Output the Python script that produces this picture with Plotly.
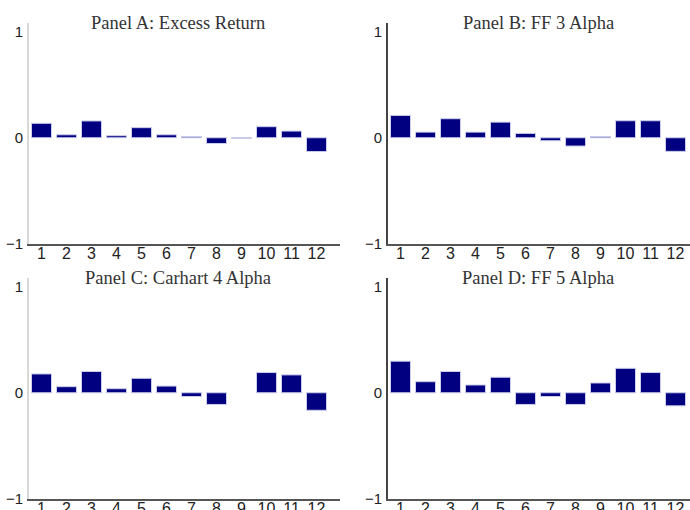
import plotly.graph_objects as go

portfolios = list(range(1, 13))
tick_labels = [str(i) for i in portfolios]

excess_return = [0.136, 0.028, 0.158, 0.019, 0.095, 0.028, 0.012, -0.054, -0.005, 0.104, 0.063, -0.130]
ff3_alpha = [0.210, 0.053, 0.179, 0.053, 0.147, 0.041, -0.028, -0.078, 0.012, 0.160, 0.160, -0.128]
carhart4_alpha = [0.177, 0.057, 0.200, 0.038, 0.136, 0.063, -0.035, -0.110, None, 0.190, 0.168, -0.165]
ff5_alpha = [0.297, 0.104, 0.200, 0.073, 0.146, -0.110, -0.035, -0.110, 0.092, 0.230, 0.190, -0.123]

titles = ["Panel A: Excess Return", "Panel B: FF 3 Alpha", "Panel C: Carhart 4 Alpha", "Panel D: FF 5 Alpha"]
series = [excess_return, ff3_alpha, carhart4_alpha, ff5_alpha]

W, H = 690, 510

def px_x(v):
    return v / W

def px_y(v):
    return 1 - v / H

left_dom = [px_x(29), px_x(340)]
right_dom = [px_x(388), 1.0]
top_dom = [px_y(244), px_y(23)]
bot_dom = [px_y(499), px_y(278)]

slot = 25.0
left_range = [0.5, 0.5 + (340 - 29) / slot]
right_range = [0.5, 0.5 + (W - 388) / slot]

fig = go.Figure()
panels = [
    (left_dom, top_dom, left_range, "#d9d9d9"),
    (right_dom, top_dom, right_range, "#444444"),
    (left_dom, bot_dom, left_range, "#d9d9d9"),
    (right_dom, bot_dom, right_range, "#444444"),
]

x_tick_font = dict(family="Liberation Sans, Arial, sans-serif", size=16, color="#222222")
y_tick_font = dict(family="Liberation Sans, Arial, sans-serif", size=15, color="#222222")

for i, (vals, (xd, yd, xr, ycol)) in enumerate(zip(series, panels)):
    n = "" if i == 0 else str(i + 1)
    fig.add_trace(go.Bar(
        x=portfolios, y=vals,
        xaxis="x" + n, yaxis="y" + n,
        marker=dict(color="#000080", line=dict(color="rgb(205,205,235)", width=1)),
        showlegend=False, hoverinfo="x+y",
    ))
    fig.layout["xaxis" + n] = dict(
        domain=xd, range=xr, anchor="y" + n, automargin=False,
        tickmode="array", tickvals=portfolios, ticktext=tick_labels,
        ticks="", showgrid=False, zeroline=False,
        showline=True, linecolor="#555555", linewidth=2,
        tickfont=x_tick_font, ticklabelstandoff=-6,
    )
    fig.layout["yaxis" + n] = dict(
        domain=yd, range=[-1, 1.08], anchor="x" + n, automargin=False,
        tickmode="array", tickvals=[-1, 0, 1],
        ticks="", showgrid=False, zeroline=False,
        showline=True, linecolor=ycol, linewidth=2,
        tickfont=y_tick_font, ticklabelstandoff=1,
    )

title_pos = [(px_x(178), px_y(23)), (px_x(538), px_y(23)), (px_x(178), px_y(278)), (px_x(538), px_y(278))]
for t, (x, y) in zip(titles, title_pos):
    fig.add_annotation(
        text=t, x=x, y=y, xref="paper", yref="paper",
        xanchor="center", yanchor="middle", showarrow=False,
        font=dict(family="Liberation Serif, Times New Roman, serif", size=18.5, color="#333333"),
    )

fig.update_layout(
    width=W, height=H,
    margin=dict(l=0, r=0, t=0, b=0, autoexpand=False),
    paper_bgcolor="white", plot_bgcolor="white",
    bargap=0.2,
)

fig.write_html(
    "out.html",
    config={"displayModeBar": False},
    post_script="document.body.style.margin='0';document.body.style.overflow='hidden';",
)
